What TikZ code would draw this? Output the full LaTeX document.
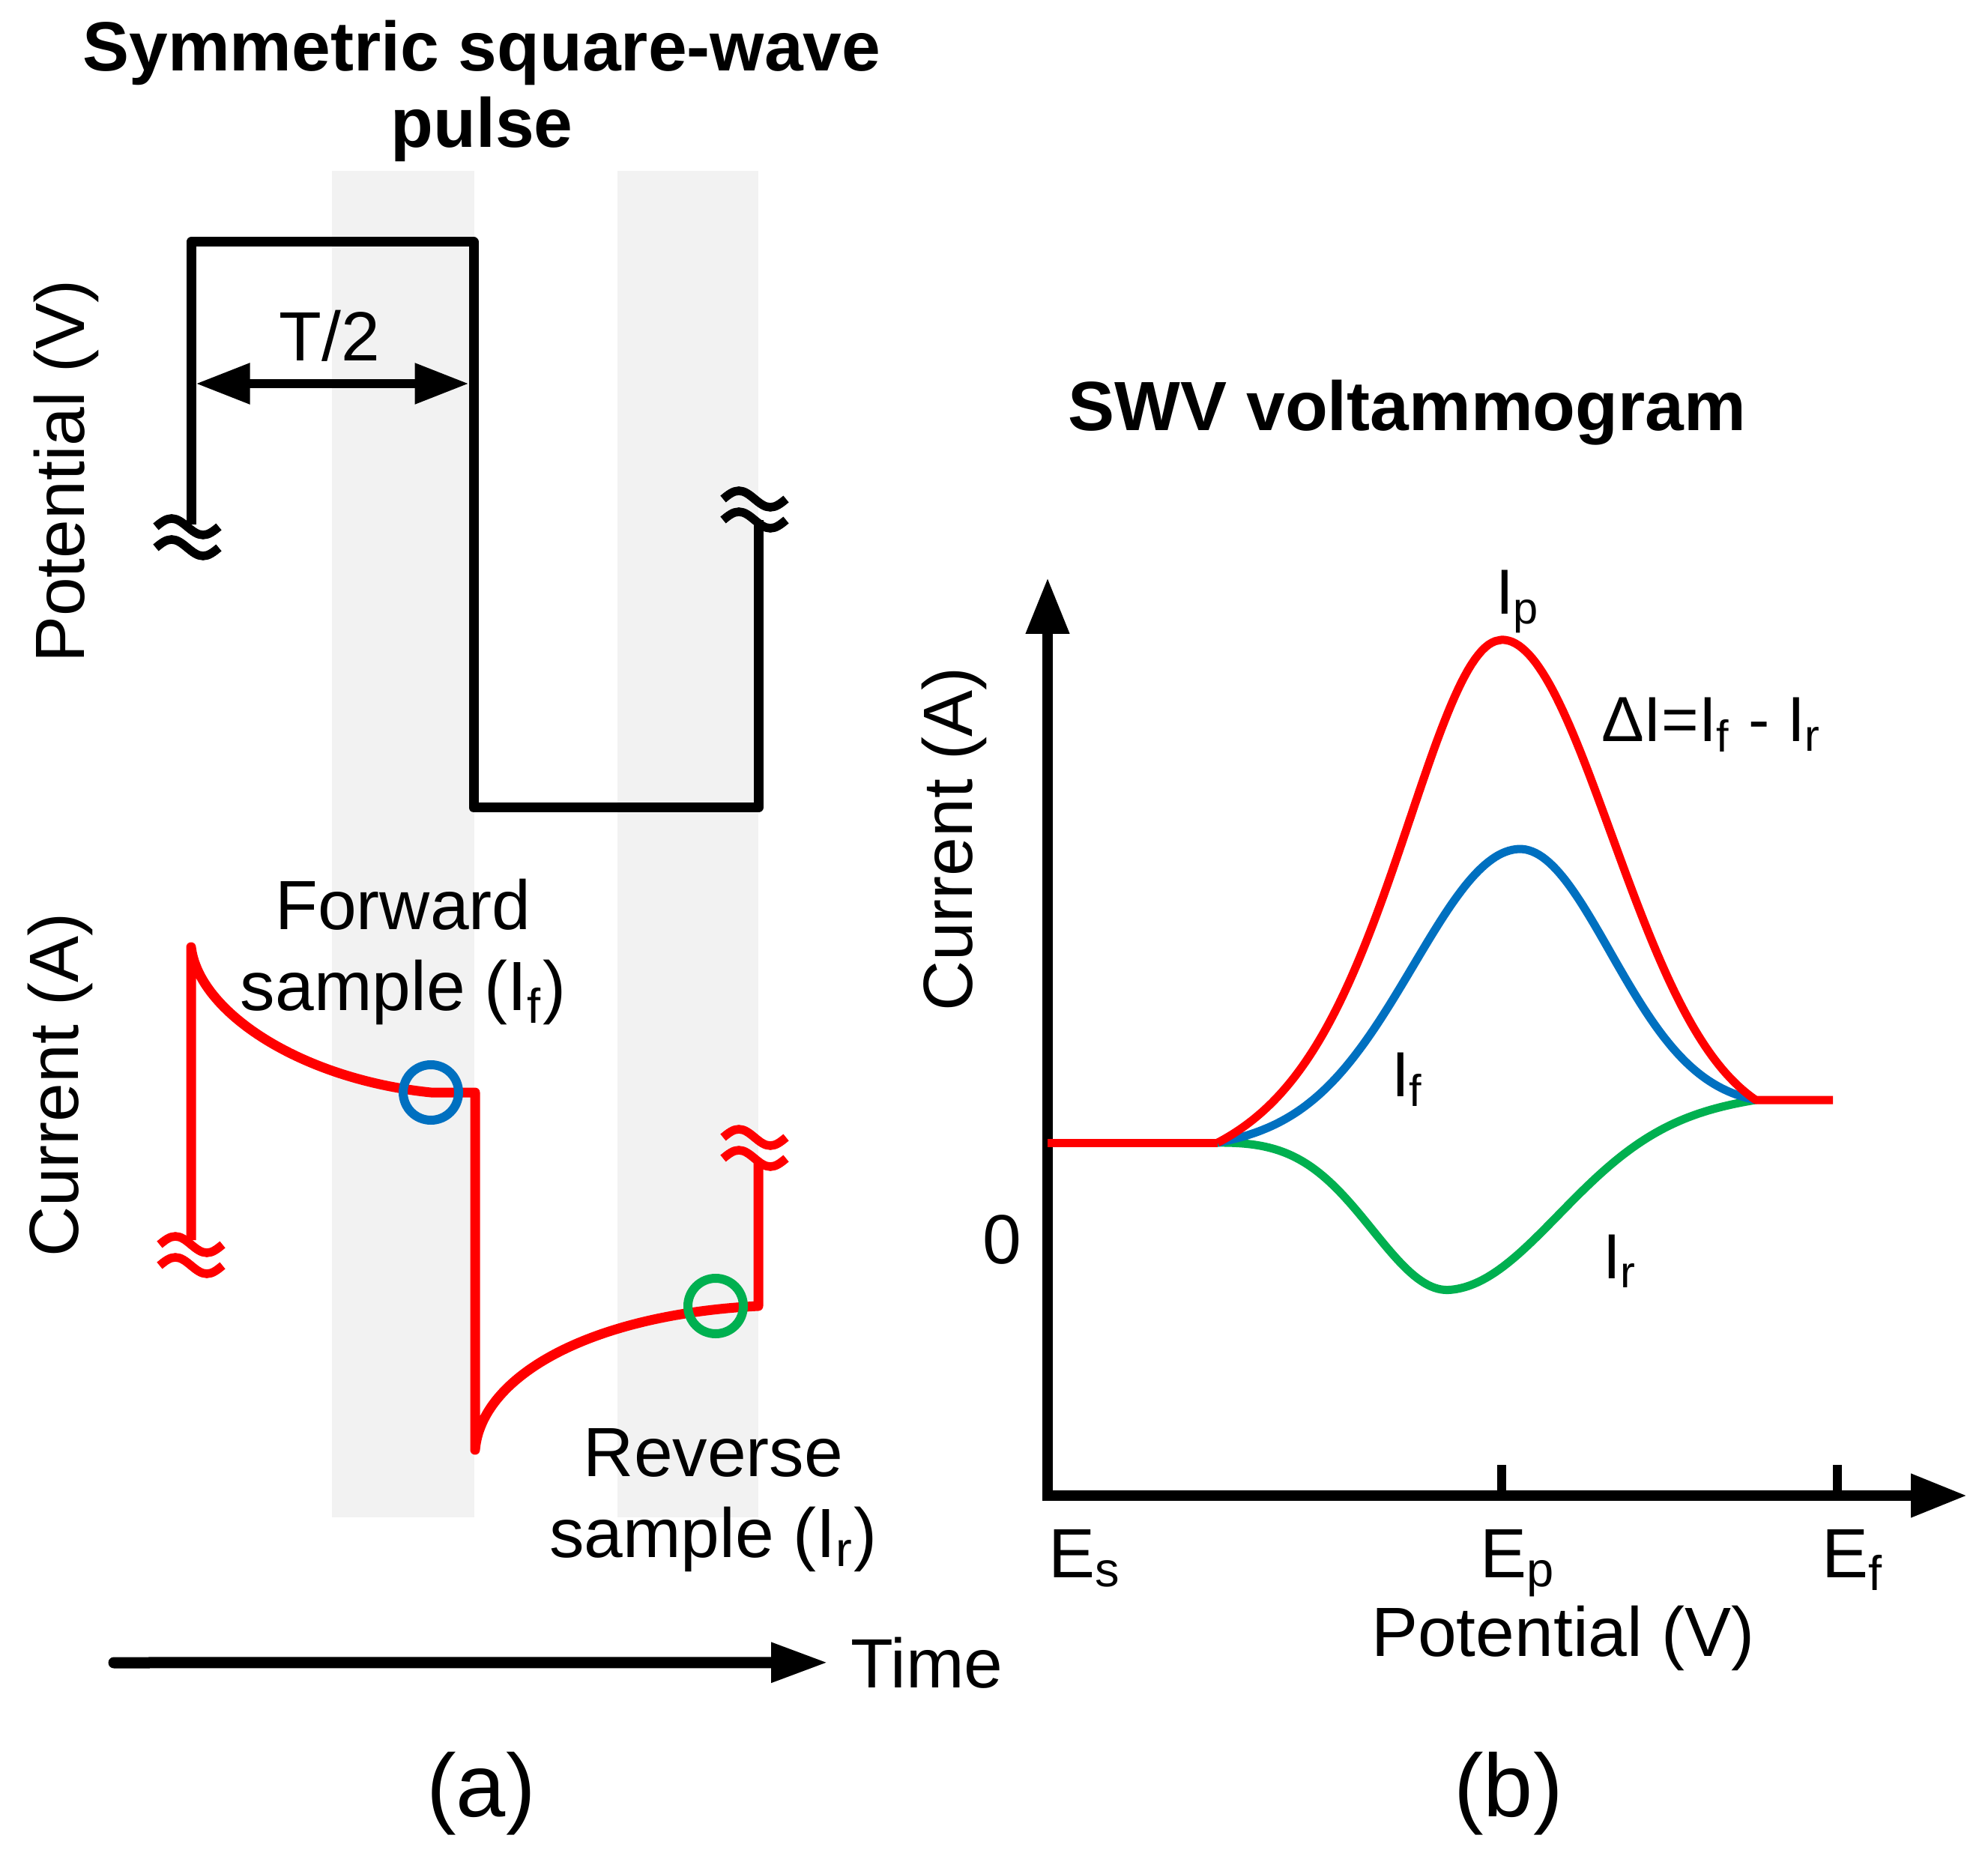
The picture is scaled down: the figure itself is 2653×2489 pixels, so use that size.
\documentclass[tikz,border=0pt]{standalone}
\usepackage{fontspec}
\setmainfont{Liberation Sans}
\usetikzlibrary{arrows.meta}
\definecolor{swvred}{RGB}{255,0,0}
\definecolor{swvblue}{RGB}{0,112,192}
\definecolor{swvgreen}{RGB}{0,176,80}
\definecolor{band}{RGB}{242,242,242}

\begin{document}
\begin{tikzpicture}[x=0.2pt,y=-0.2pt,
  declare function={
    vbase(\xa)=max(1468,1525-(\xa-1625)/718*57);
    gs(\xa,\xc,\xs)=exp(-(((\xa-\xc)/\xs)^2));
    sh(\xa,\xc,\xs)=1/(cosh((\xa-\xc)/\xs)^2);
  }]
\tikzset{
  lbl/.style={inner sep=0pt,font=\fontsize{18.6}{21.6}\selectfont,align=center},
  ttl/.style={inner sep=0pt,font=\bfseries\fontsize{18.6}{20.4}\selectfont,align=center},
  lblsmall/.style={inner sep=0pt,font=\fontsize{17}{20}\selectfont},
  lblbig/.style={inner sep=0pt,font=\fontsize{23.8}{28}\selectfont},
  sqwave/.style={line width=2.6pt,line join=round},
  itrace/.style={line width=2.6pt,swvred,line join=round},
  vcurve/.style={line width=2.2pt,line join=round,samples=160,domain=1625:2343},
  ringline/.style={line width=2.4pt},
  axisline/.style={line width=2.8pt,{Triangle[length=15pt,width=11pt]}-{Triangle[length=15pt,width=11pt]}},
  brk/.pic={
    \draw[line width=2.3pt] (-42,-14) sin (-21,-25) cos (0,-14) sin (21,-3) cos (42,-14)
      (-42,14) sin (-21,3) cos (0,14) sin (21,25) cos (42,14);
  }
}
\useasboundingbox (0,0) rectangle (2653,2489);

% (a) sampling windows
\fill[band] (443,228) rectangle (633,2025);
\fill[band] (824,228) rectangle (1012,2025);

\node[ttl,anchor=base] (title) at (643,197) {Symmetric square-wave\\pulse};

% potential pulse
\coordinate (v0) at (255,700);
\coordinate (v1) at (255,323);
\coordinate (v2) at (632,323);
\coordinate (v3) at (632,1078);
\coordinate (v4) at (1012,1078);
\coordinate (v5) at (1012,694);
\draw[sqwave] (v0) -- (v1) -- (v2) -- (v3) -- (v4) -- (v5);
\pic at (250,717) {brk};
\pic at (1007,680) {brk};

\coordinate (h0) at (255,512);
\coordinate (h1) at (632,512);
\draw[line width=2.4pt,{Triangle[length=14.4pt,width=10.4pt]}-{Triangle[length=14.4pt,width=10.4pt]},shorten <=1.3pt,shorten >=1.3pt] (h0) -- (h1);
\node[lbl,anchor=base] (half) at (440,482) {T/2};

\node[lbl,rotate=90,anchor=base] (potlbl) at (113,629) {Potential (V)};

% current response
\draw[itrace] (255,1655) -- (255,1264) .. controls (265,1350) and (400,1440) .. (575,1458)
  -- (634,1458) -- (634,1935) .. controls (642,1840) and (780,1755) .. (1012,1743) -- (1012,1548);
\pic[swvred] at (255,1675) {brk};
\pic[swvred] at (1007,1532) {brk};
\draw[ringline,swvblue] (575,1458) circle[radius=37];
\draw[ringline,swvgreen] (955,1743) circle[radius=37];

\node[lbl,rotate=90,anchor=base] (curlbl) at (104,1448) {Current (A)};
\node[lbl,anchor=base] (fwd) at (538,1348) {Forward\\sample (I\textsubscript{f})};
\node[lbl,anchor=base] (rev) at (952,2078) {Reverse\\sample (I\textsubscript{r})};

\node[lbl,anchor=base west] (timelbl) at (1134,2252) {Time};
\coordinate (t0) at (152,2219);
\draw[line width=3pt,line cap=round,-{Triangle[length=15.2pt,width=10pt]}] (t0) -- ([xshift=-5.8pt]timelbl.west);

\node[lblbig,anchor=base] (capa) at (642,2424) {(a)};

% (b) voltammogram
\node[ttl,anchor=base] (swv) at (1878,575) {SWV voltammogram};

\coordinate (O) at (1398,1996);
\coordinate (ytop) at (1398,771);
\coordinate (xend) at (2625,1996);
\draw[axisline] (ytop) -- (O) -- (xend);
\draw[line width=2.4pt] (2004,1996) -- (2004,1955);
\draw[line width=2.4pt] (2452,1996) -- (2452,1955);

\draw[vcurve,swvgreen] plot (\x,{vbase(\x) + 221*max(0,((\x<1935)?((gs(\x,1935,146)-0.011)/0.989):((gs(\x,1935,205)-0.019)/0.981)))});
\draw[vcurve,swvblue] plot (\x,{vbase(\x) - 360*max(0,((\x<2025)?((gs(\x,2025,196)-0.0155)/0.9845):((gs(\x,2025,175)-0.0368)/0.9632)))});
\draw[vcurve,swvred] (1398,1525) -- (1625,1525);
\draw[vcurve,swvred] plot (\x,{vbase(\x) - 641*max(0,((\x<2002)?((sh(\x,2002,182)-0.0616)/0.9384):((gs(\x,2002,210)-0.0716)/0.9284)))})
  -- (2446,1468);

\node[lblsmall,anchor=base west] (ip) at (1995,820) {I\textsubscript{p}};
\node[lblsmall,anchor=base west] (dI) at (2136,990) {ΔI=I\textsubscript{f} - I\textsubscript{r}};
\node[lblsmall,anchor=base west] (iflbl) at (1856,1463) {I\textsubscript{f}};
\node[lblsmall,anchor=base west] (irlbl) at (2138,1706) {I\textsubscript{r}};

\node[lbl,anchor=base] (zero) at (1337,1686) {0};
\node[lbl,rotate=90,anchor=base] (cur2) at (1297,1120) {Current (A)};
\node[lbl,anchor=base west] (es) at (1398,2105) {E\textsubscript{s}};
\node[lbl,anchor=base west] (ep) at (1974,2105) {E\textsubscript{p}};
\node[lbl,anchor=base west] (ef) at (2430,2105) {E\textsubscript{f}};
\node[lbl,anchor=base] (pot2) at (2086,2210) {Potential (V)};

\node[lblbig,anchor=base] (capb) at (2013,2424) {(b)};
\end{tikzpicture}
\end{document}
